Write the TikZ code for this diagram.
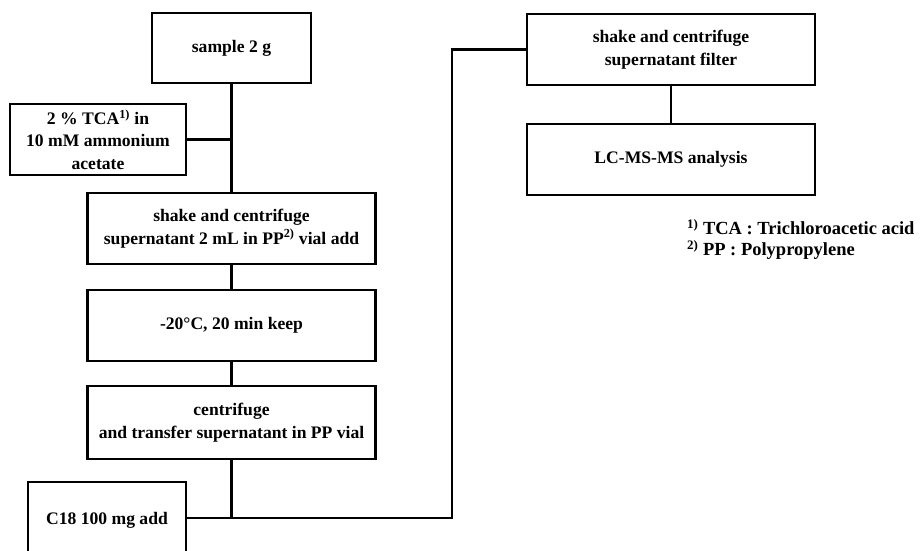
\documentclass[tikz,border=0pt]{standalone}
\usepackage{fontspec}
\setmainfont{Liberation Serif}
\usepackage{tikz}
\usetikzlibrary{positioning}
\newcommand{\boxfont}{\fontsize{17.6}{22.5}\selectfont\bfseries}
\newcommand{\fnmark}[1]{\textsuperscript{#1)}}

\begin{document}
\begin{tikzpicture}[x=1pt, y=-1pt, line width=2.2pt,
    stepbox/.style={draw, rectangle, align=center, inner sep=2pt, font=\boxfont},
    widebox/.style={stepbox, minimum width=288pt, minimum height=71pt}]
  \useasboundingbox (0,0) rectangle (920,550);

  % left column
  \node[stepbox, minimum width=159pt, minimum height=70pt] (sample) at (231.5,48) {sample 2 g};
  \node[stepbox, minimum width=176pt, minimum height=71pt] (tca) at (98,139.5)
       {2 \% TCA\fnmark{1} in\\10 mM ammonium\\acetate};
  \node[widebox] (shake) at (231.5,228.5) {shake and centrifuge\\supernatant 2 mL in PP\fnmark{2} vial add};
  \node[widebox] (cool) at (231.5,325.5) {-20\textdegree C, 20 min keep};
  \node[widebox, minimum height=73pt] (transfer) at (231.5,422.5)
       {centrifuge\\and transfer supernatant in PP vial};
  \node[stepbox, minimum width=158pt, minimum height=76pt] (c18) at (107,520) {C18 100 mg add};

  % right column
  \node[widebox] (filter) at (671,49.5) {shake and centrifuge\\supernatant filter};
  \node[widebox] (lcms) at (671,159.5) {LC-MS-MS analysis};

  \coordinate (tcajoin) at (231.5,139.5);
  \coordinate (c18join) at (231.5,518);
  \coordinate (turn) at (452,518);
  \coordinate (up) at (452,49.5);

  \draw (sample.south) -- (shake.north);
  \draw (tca.east) -- (tcajoin);
  \draw (shake.south) -- (cool.north);
  \draw (cool.south) -- (transfer.north);
  \draw (transfer.south) -- (c18join);
  \draw (c18.east |- c18join) -- (turn) -- (up) -- (filter.west);
  \draw (filter.south) -- (lcms.north);

  % footnotes
  \node[anchor=west, font=\fontsize{18.5}{23}\selectfont\bfseries, inner sep=0pt] (fn1) at (686,227)
       {\fnmark{1} TCA : Trichloroacetic acid};
  \node[anchor=west, font=\fontsize{18.5}{23}\selectfont\bfseries, inner sep=0pt] (fn2) at (686,250)
       {\fnmark{2} PP : Polypropylene};
\end{tikzpicture}
\end{document}
